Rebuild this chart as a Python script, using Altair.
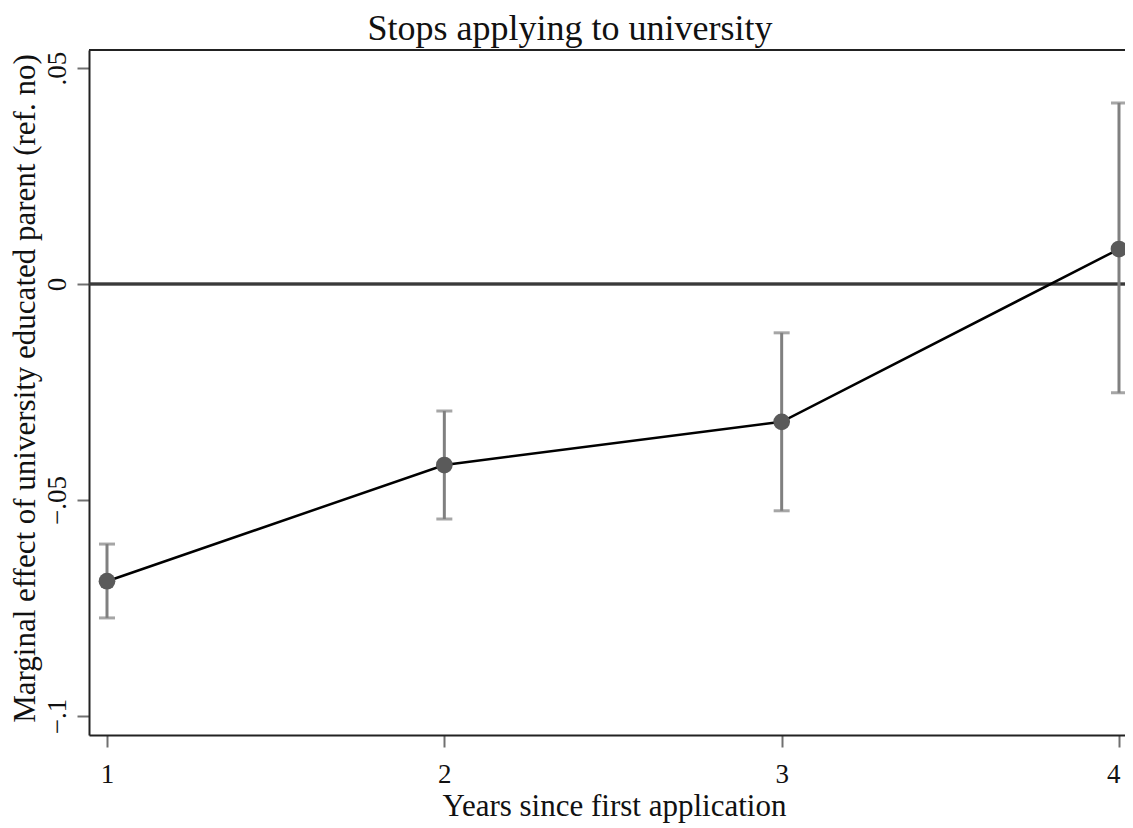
import altair as alt
import pandas as pd

# Data
years = [1, 2, 3, 4]
estimate = [-0.0688, -0.0419, -0.0319, 0.0081]
ci_low = [-0.0773, -0.0544, -0.0525, -0.0252]
ci_high = [-0.0602, -0.0294, -0.0113, 0.0419]

x_ticks = [1, 2, 3, 4]
y_ticks = [-0.1, -0.05, 0, 0.05]

title_text = ["Stops applying to university"]
x_title = "Years since first application"
y_title = "Marginal effect of university educated parent (ref. no)"

df = pd.DataFrame({"year": years, "est": estimate, "lo": ci_low, "hi": ci_high})
title_df = pd.DataFrame({"t": title_text})

FONT = "Liberation Serif"
W, H = 1036, 685

x_scale = alt.Scale(domain=[0.94664, 4.01779], nice=False, zero=False)
y_scale = alt.Scale(domain=[-0.1044, 0.05417], nice=False, zero=False)

x_axis = alt.Axis(
    values=x_ticks, format="d", grid=False,
    domainColor="#222222", domainWidth=2,
    tickColor="#707070", tickWidth=2, tickSize=12,
    labelFont=FONT, labelFontSize=27, labelColor="#111111",
    labelBaseline="alphabetic", labelPadding=35,
    labelFlush=10, labelFlushOffset=1,
    title=x_title, titleFont=FONT, titleFontSize=31, titleFontWeight="normal",
    titleColor="#111111", titleX=525, titleY=80, titleAlign="center",
    titleBaseline="alphabetic",
)
y_axis = alt.Axis(
    values=y_ticks, grid=False,
    labelExpr="replace(format(datum.value, '~g'), '0.', '.')",
    domainColor="#222222", domainWidth=2,
    tickColor="#707070", tickWidth=2, tickSize=12,
    labelFont=FONT, labelFontSize=27, labelColor="#111111",
    labelAngle=-90, labelAlign="center", labelBaseline="alphabetic",
    labelPadding=12,
    title=y_title, titleFont=FONT, titleFontSize=31, titleFontWeight="normal",
    titleColor="#111111", titleAngle=-90, titleX=-55, titleY=338,
    titleAlign="center", titleBaseline="alphabetic",
)

base = alt.Chart(df)

zero = base.mark_rule(color="#3a3a3a", strokeWidth=2.5).encode(
    y=alt.datum(0, scale=y_scale, axis=y_axis)
)
bars = base.mark_rule(color="#808080", strokeWidth=3).encode(
    x=alt.X("year:Q", scale=x_scale, axis=x_axis),
    y=alt.Y("lo:Q", scale=y_scale, axis=y_axis),
    y2="hi:Q",
)
cap_lo = base.mark_tick(color="#808080", orient="horizontal", size=16, thickness=3).encode(
    x=alt.X("year:Q", scale=x_scale), y=alt.Y("lo:Q", scale=y_scale)
)
cap_hi = base.mark_tick(color="#808080", orient="horizontal", size=16, thickness=3).encode(
    x=alt.X("year:Q", scale=x_scale), y=alt.Y("hi:Q", scale=y_scale)
)
line = base.mark_line(color="#000000", strokeWidth=2.5).encode(
    x=alt.X("year:Q", scale=x_scale), y=alt.Y("est:Q", scale=y_scale)
)
points = base.mark_circle(color="#5a5a5a", size=280, opacity=1).encode(
    x=alt.X("year:Q", scale=x_scale), y=alt.Y("est:Q", scale=y_scale)
)
top_border = base.mark_rule(color="#222222", strokeWidth=2).encode(
    x=alt.value(0), x2=alt.value(W), y=alt.value(0)
)
title = alt.Chart(title_df).mark_text(
    font=FONT, fontSize=36, color="#111111", align="center", baseline="alphabetic"
).encode(
    text="t:N", x=alt.value(481), y=alt.value(-10)
)

chart = alt.layer(zero, bars, cap_lo, cap_hi, line, points, top_border, title).properties(
    width=W, height=H,
    autosize=alt.AutoSizeParams(type="none"),
    padding={"left": 81, "top": 42, "right": 0, "bottom": 88},
).configure_view(stroke=None).configure(background="white")

chart.save("out.html", embed_options={"renderer": "svg", "actions": False})
